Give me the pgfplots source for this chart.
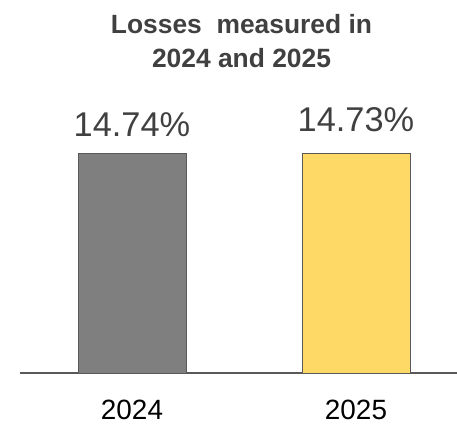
\documentclass[border=0pt]{standalone}
\usepackage{pgfplots}
\pgfplotsset{compat=1.18}
\usepackage{fontspec}
\setmainfont{Liberation Sans}
\definecolor{txtgray}{HTML}{404040}
\definecolor{bargray}{HTML}{7F7F7F}
\definecolor{baryellow}{HTML}{FFD966}
\definecolor{edgegray}{HTML}{595959}
\begin{document}
\begin{tikzpicture}
\begin{axis}[
  scale only axis,
  width=437bp, height=373bp,
  xmin=-0.5, xmax=1.4509,
  ymin=0, ymax=25,
  enlargelimits=false,
  hide y axis,
  axis x line*=bottom,
  x axis line style={color=edgegray, line width=1.5bp},
  xtick={0,1},
  xticklabels={2024,2025},
  major tick length=0pt,
  xticklabel style={anchor=base, inner sep=0pt, yshift=-46bp, font=\fontsize{28}{30}\selectfont, text=black},
  ybar, bar width=108bp, bar shift=0pt,
  clip=false,
]
\addplot[fill=bargray, draw=edgegray, line width=0.8bp] coordinates {(0,14.74)};
\addplot[fill=baryellow, draw=edgegray, line width=0.8bp] coordinates {(1,14.73)};
\node[anchor=base, text=txtgray, font=\fontsize{34.5}{36}\selectfont] at (axis cs:0,15.82) {14.74\%};
\node[anchor=base, text=txtgray, font=\fontsize{34.5}{36}\selectfont] at (axis cs:1,16.17) {14.73\%};
\node[anchor=base, text=txtgray, font=\bfseries\fontsize{26.5}{28}\selectfont] at (axis cs:0.489,22.75) {Losses\ \ measured in};
\node[anchor=base, text=txtgray, font=\bfseries\fontsize{26.5}{28}\selectfont] at (axis cs:0.489,20.45) {2024 and 2025};
\end{axis}
\pgfresetboundingbox
\path[use as bounding box] (current axis.south west) ++(-20bp,-53bp) rectangle (current axis.north east);
\end{tikzpicture}
\end{document}
